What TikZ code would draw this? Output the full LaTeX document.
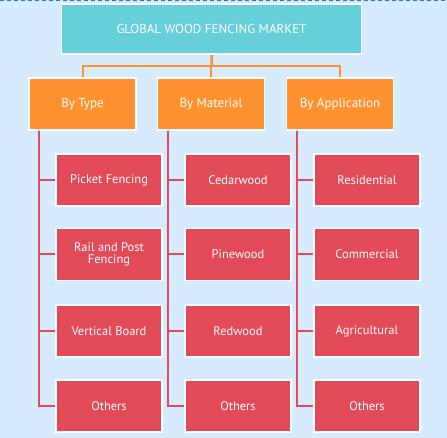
\documentclass[tikz,border=0pt]{standalone}
\usepackage{fontspec}
\setmainfont{PT Sans}
\usepackage{xcolor}
\usepackage{tikz}
\definecolor{chartbg}{RGB}{214, 235, 253}
\definecolor{chartdash}{RGB}{45, 120, 190}
\definecolor{titleteal}{RGB}{102, 208, 218}
\definecolor{segorange}{RGB}{255, 146, 46}
\definecolor{leafred}{RGB}{226, 74, 88}

\begin{document}
\begin{tikzpicture}[x=1pt, y=-1pt,
	titlebox/.style={fill=titleteal, draw=white, line width=1.5pt, minimum width=300pt, minimum height=50pt, text=white, font=\fontsize{13}{14}\selectfont},
	segbox/.style={fill=segorange, draw=white, line width=1.5pt, minimum width=107pt, minimum height=52pt, text=white, font=\fontsize{13}{14}\selectfont},
	leafbox/.style={fill=leafred, draw=white, line width=1.5pt, minimum width=106pt, minimum height=52pt, text=white, align=center, font=\fontsize{12.5}{12.7}\selectfont},
	orangeline/.style={segorange, line width=2pt},
	redline/.style={leafred, line width=2pt}]
					\fill[chartbg] (0,0) rectangle (447,438);
					\useasboundingbox (0,0) rectangle (447,438);
					\draw[chartdash, line width=1pt, dash pattern=on 4pt off 3pt] (0,1) -- (447,1);
					
					\node[titlebox] (market) at (211.5,29) {GLOBAL WOOD FENCING MARKET};
					
					\node[segbox] (type) at (82.5,104) {By Type};
					\node[segbox] (material) at (211,104) {By Material};
					\node[segbox] (application) at (340,104) {By Application};
					
					\draw[orangeline] (market.south) -- ++(0,11) -| (type.north);
					\draw[orangeline] (market.south) -- ++(0,11) -| (application.north);
					\draw[orangeline] (market.south) -- (material.north);
					
					\node[leafbox] (picket) at (109,180) {Picket Fencing};
					\node[leafbox] (rail) at (109,254.5) {Rail and Post\\Fencing};
					\node[leafbox] (vertical) at (109,331) {Vertical Board};
					\node[leafbox] (typeother) at (109,406) {Others};
					
					\node[leafbox] (cedar) at (238,180) {Cedarwood};
					\node[leafbox] (pine) at (238,254.5) {Pinewood};
					\node[leafbox] (red) at (238,331) {Redwood};
					\node[leafbox] (matother) at (238,406) {Others};
					
					\node[leafbox] (resid) at (367,180) {Residential};
					\node[leafbox] (comm) at (367,254.5) {Commercial};
					\node[leafbox] (agri) at (367,331) {Agricultural};
					\node[leafbox] (appother) at (367,406) {Others};
					
					\foreach \leaf in {picket, rail, vertical, typeother}
						\draw[redline] (type.south west) ++(11,0) |- (\leaf.west);
					\foreach \leaf in {cedar, pine, red, matother}
						\draw[redline] (material.south west) ++(11,0) |- (\leaf.west);
					\foreach \leaf in {resid, comm, agri, appother}
						\draw[redline] (application.south west) ++(11,0) |- (\leaf.west);
				\end{tikzpicture}
\end{document}
